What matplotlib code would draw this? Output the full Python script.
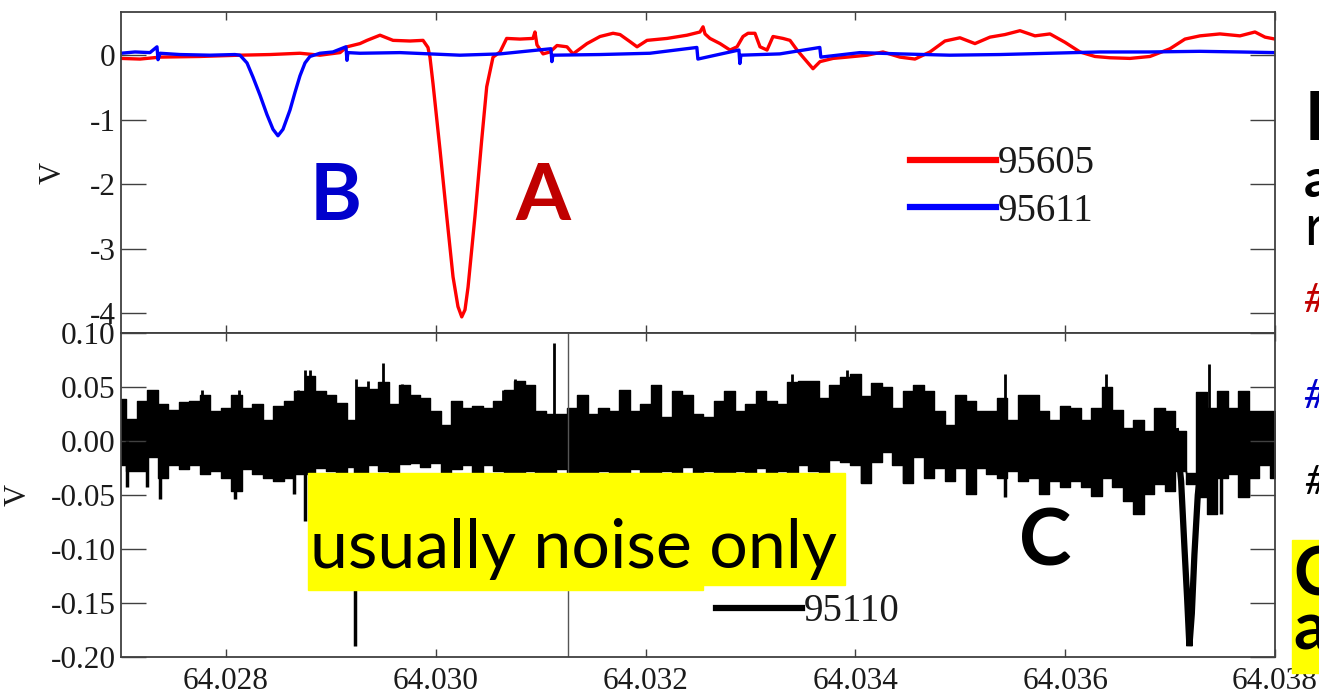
import numpy as np
import matplotlib
matplotlib.use("Agg")
import matplotlib.pyplot as plt
from matplotlib.patches import Rectangle

plt.rcParams['font.family'] = 'Liberation Serif'
plt.rcParams['axes.unicode_minus'] = False

# ---- top panel: channels 95605 (red) and 95611 (blue), volts vs time
red_t = [64.027000, 64.027181, 64.027372, 64.027753, 64.028134, 64.028420, 64.028706,
         64.028897, 64.029088, 64.029154, 64.029278, 64.029345, 64.029469, 64.029593,
         64.029755, 64.029879, 64.029926, 64.029945, 64.029974, 64.030041, 64.030105,
         64.030165, 64.030212, 64.030248, 64.030279, 64.030308, 64.030374, 64.030438,
         64.030486, 64.030546, 64.030613, 64.030676, 64.030803, 64.030927, 64.030946,
         64.030965, 64.031023, 64.031089, 64.031156, 64.031251, 64.031309, 64.031442,
         64.031566, 64.031690, 64.031757, 64.031852, 64.031919, 64.032014, 64.032205,
         64.032395, 64.032519, 64.032548, 64.032567, 64.032614, 64.032710, 64.032805,
         64.032872, 64.032929, 64.032977, 64.033043, 64.033091, 64.033158, 64.033215,
         64.033310, 64.033377, 64.033444, 64.033501, 64.033596, 64.033663, 64.033787,
         64.033920, 64.034111, 64.034263, 64.034425, 64.034568, 64.034711, 64.034854,
         64.034997, 64.035140, 64.035283, 64.035426, 64.035569, 64.035712, 64.035855,
         64.035998, 64.036141, 64.036284, 64.036427, 64.036618, 64.036808, 64.036999,
         64.037142, 64.037285, 64.037475, 64.037666, 64.037809, 64.037905, 64.038000]
red_v = [-0.05, -0.06, -0.03, -0.02, 0.00, 0.01, 0.03,
         0.00, 0.04, 0.13, 0.18, 0.23, 0.31, 0.23,
         0.22, 0.23, 0.12, -0.03, -0.44, -1.47, -2.50,
         -3.44, -3.90, -4.06, -3.95, -3.60, -2.50, -1.32,
         -0.49, -0.03, 0.05, 0.26, 0.25, 0.26, 0.36,
         0.16, 0.02, 0.05, 0.15, 0.13, 0.02, 0.18,
         0.29, 0.34, 0.32, 0.21, 0.13, 0.23, 0.26,
         0.31, 0.36, 0.44, 0.33, 0.26, 0.18, 0.08,
         0.13, 0.29, 0.34, 0.34, 0.13, 0.08, 0.29,
         0.26, 0.23, 0.08, -0.03, -0.21, -0.10, -0.05,
         -0.03, 0.00, 0.05, -0.03, -0.06, 0.05, 0.22,
         0.27, 0.18, 0.28, 0.32, 0.38, 0.30, 0.33,
         0.20, 0.05, -0.02, -0.04, -0.05, -0.02, 0.10,
         0.25, 0.30, 0.33, 0.30, 0.36, 0.28, 0.25]

blue_t = [64.027000, 64.027133, 64.027276, 64.027343, 64.027353, 64.027372, 64.027562,
          64.027848, 64.028086, 64.028134, 64.028201, 64.028258, 64.028325, 64.028391,
          64.028449, 64.028496, 64.028544, 64.028611, 64.028658, 64.028706, 64.028754,
          64.028801, 64.028896, 64.029020, 64.029144, 64.029154, 64.029163, 64.029278,
          64.029659, 64.029945, 64.030231, 64.030612, 64.031098, 64.031107, 64.031117,
          64.031565, 64.032041, 64.032489, 64.032499, 64.032890, 64.032899, 64.032909,
          64.033280, 64.033661, 64.033671, 64.034043, 64.034424, 64.034900, 64.035377,
          64.035853, 64.036330, 64.036806, 64.037283, 64.037664, 64.037998]
blue_v = [0.03, 0.05, 0.04, 0.13, -0.07, 0.03, 0.01,
          0.00, 0.01, 0.00, -0.12, -0.34, -0.62, -0.92,
          -1.15, -1.25, -1.15, -0.85, -0.58, -0.32, -0.12,
          -0.02, 0.03, 0.05, 0.13, -0.08, 0.04, 0.03,
          0.04, 0.02, 0.00, 0.02, 0.10, -0.10, 0.00,
          0.01, 0.03, 0.12, -0.06, 0.08, -0.13, 0.00,
          0.02, 0.12, -0.03, 0.04, 0.02, 0.00, 0.01,
          0.03, 0.05, 0.05, 0.06, 0.05, 0.04]

# ---- bottom panel: channel 95110, min/max envelope every 0.0001 from 64.027 to 64.038
noise_hi = [0.039, 0.020, 0.037, 0.047, 0.034, 0.029, 0.036, 0.037, 0.043, 0.028,
            0.031, 0.043, 0.031, 0.034, 0.019, 0.032, 0.037, 0.046, 0.060, 0.046,
            0.043, 0.035, 0.019, 0.050, 0.048, 0.055, 0.034, 0.052, 0.043, 0.040,
            0.028, 0.015, 0.037, 0.031, 0.032, 0.031, 0.037, 0.047, 0.056, 0.052,
            0.028, 0.025, 0.025, 0.031, 0.043, 0.025, 0.031, 0.028, 0.047, 0.028,
            0.034, 0.052, 0.022, 0.046, 0.043, 0.025, 0.022, 0.037, 0.046, 0.028,
            0.034, 0.046, 0.037, 0.034, 0.055, 0.056, 0.056, 0.040, 0.052, 0.059,
            0.062, 0.042, 0.054, 0.050, 0.031, 0.046, 0.052, 0.046, 0.028, 0.015,
            0.043, 0.037, 0.028, 0.028, 0.040, 0.019, 0.043, 0.043, 0.028, 0.019,
            0.032, 0.031, 0.019, 0.031, 0.050, 0.029, 0.012, 0.019, 0.009, 0.031,
            0.028, 0.009, -0.030, 0.045, 0.031, 0.046, 0.031, 0.046, 0.028, 0.028,
            0.028]
noise_lo = [-0.022, -0.028, -0.028, -0.015, -0.034, -0.022, -0.026, -0.022, -0.031, -0.028,
            -0.034, -0.046, -0.026, -0.031, -0.034, -0.037, -0.034, -0.031, -0.031, -0.025,
            -0.028, -0.031, -0.024, -0.031, -0.022, -0.028, -0.031, -0.021, -0.020, -0.024,
            -0.020, -0.031, -0.026, -0.022, -0.031, -0.022, -0.028, -0.031, -0.031, -0.028,
            -0.033, -0.031, -0.026, -0.033, -0.030, -0.033, -0.028, -0.033, -0.031, -0.026,
            -0.033, -0.031, -0.028, -0.033, -0.024, -0.031, -0.028, -0.033, -0.031, -0.028,
            -0.033, -0.025, -0.031, -0.028, -0.033, -0.022, -0.028, -0.031, -0.018, -0.019,
            -0.022, -0.039, -0.019, -0.010, -0.022, -0.039, -0.015, -0.034, -0.025, -0.037,
            -0.025, -0.049, -0.025, -0.031, -0.034, -0.028, -0.037, -0.034, -0.049, -0.037,
            -0.043, -0.037, -0.043, -0.051, -0.034, -0.043, -0.056, -0.068, -0.049, -0.040,
            -0.046, -0.028, -0.040, -0.052, -0.068, -0.034, -0.031, -0.052, -0.034, -0.022,
            -0.034]

spike_up_t = [64.027293, 64.027773, 64.028126, 64.028686, 64.028756, 64.028803, 64.029240,
              64.029357, 64.029500, 64.029678, 64.030645, 64.030760, 64.031132, 64.032105,
              64.033393, 64.033925, 64.033985, 64.034593, 64.035426, 64.036389, 64.037372]
spike_up_v = [0.047, 0.047, 0.047, 0.047, 0.066, 0.066, 0.057,
              0.056, 0.072, 0.053, 0.047, 0.057, 0.091, 0.052,
              0.062, 0.066, 0.062, 0.052, 0.062, 0.062, 0.071]
spike_dn_t = [64.027054, 64.027245, 64.027372, 64.028088, 64.028651, 64.028756, 64.029233,
              64.034068, 64.034462, 64.035082, 64.035426, 64.036676, 64.037487, 64.037741]
spike_dn_v = [-0.043, -0.043, -0.054, -0.054, -0.049, -0.074, -0.190,
              -0.039, -0.039, -0.049, -0.052, -0.068, -0.068, -0.052]

# event C
dip_t = [64.037057, 64.037105, 64.037137, 64.037162, 64.037184, 64.037207, 64.037232,
         64.037264, 64.037302]
dip_v = [0.009, -0.037, -0.099, -0.145, -0.190, -0.160, -0.105, -0.050, -0.015]

glitch_t = [64.031258]

x_ticks = [64.028, 64.030, 64.032, 64.034, 64.036, 64.038]
top_yticks = [0, -1, -2, -3, -4]
bot_yticks = [0.10, 0.05, 0.00, -0.05, -0.10, -0.15, -0.20]

W, H = 1319, 694
fig = plt.figure(figsize=(W / 100, H / 100), dpi=100)


def fx(px):
    return px / W


def fy(py):
    return 1 - py / H


ax1 = fig.add_axes([fx(121), fy(333), fx(1275) - fx(121), fy(12) - fy(333)])
ax2 = fig.add_axes([fx(121), fy(657), fx(1275) - fx(121), fy(333) - fy(657)])

frame_c = '#404040'
label_c = '#1a1a1a'


def style(ax, show_x):
    for s in ax.spines.values():
        s.set_color(frame_c)
        s.set_linewidth(1.3)
    ax.tick_params(axis='y', direction='in', length=18, width=1, color=frame_c,
                   left=True, right=True, labelsize=22.5, pad=4, labelcolor=label_c)
    ax.tick_params(axis='x', direction='in', length=6, width=1, color=frame_c,
                   top=True, bottom=True, labelsize=22.5, pad=7, labelcolor=label_c,
                   labelbottom=show_x)
    ax.set_xlim(64.027, 64.038)
    ax.set_xticks(x_ticks)
    ax.set_xticklabels(['%.3f' % t for t in x_ticks])


# top panel
ax1.plot(red_t, red_v, color='#ff0000', lw=2.4, label='95605')
ax1.plot(blue_t, blue_v, color='#0000ff', lw=2.4, label='95611')
ax1.set_ylim(-4.31, 0.67)
ax1.set_yticks(top_yticks)
ax1.set_yticklabels([str(v) for v in top_yticks])
style(ax1, False)
ax1.set_ylabel('V', fontsize=22, color=label_c)
ax1.yaxis.set_label_coords(-0.046, 0.5)
leg1 = ax1.legend(loc='upper left', bbox_to_anchor=(0.6837, 0.585), frameon=False,
                  prop={'family': 'Liberation Serif', 'size': 28}, handlelength=2.2,
                  handletextpad=0.05, labelspacing=0.28, borderpad=0, borderaxespad=0)
for h in leg1.legend_handles:
    h.set_linewidth(4.5)
for t in leg1.get_texts():
    t.set_color(label_c)

# bottom panel
samp_t = np.linspace(64.027, 64.038, len(noise_hi))
ax2.fill_between(samp_t, noise_lo, noise_hi, step='mid', color='black', lw=1)
ax2.vlines(spike_up_t, 0, spike_up_v, color='black', lw=2)
ax2.vlines(spike_dn_t, 0, spike_dn_v, color='black', lw=2.5)
ax2.vlines(glitch_t, -0.2, 0.1, color='#555555', lw=1)
ax2.plot(dip_t, dip_v, color='black', lw=4.5, label='95110', solid_joinstyle='miter')
ax2.set_ylim(-0.2, 0.1)
ax2.set_yticks(bot_yticks)
ax2.set_yticklabels(['%.2f' % v for v in bot_yticks])
style(ax2, True)
ax2.set_ylabel('V', fontsize=22, color=label_c)
ax2.yaxis.set_label_coords(-0.077, 0.5)
leg2 = ax2.legend(loc='upper left', bbox_to_anchor=(0.5156, 0.196), frameon=False,
                  prop={'family': 'Liberation Serif', 'size': 28}, handlelength=2.2,
                  handletextpad=0.05, borderpad=0, borderaxespad=0)
for h in leg2.legend_handles:
    h.set_linewidth(4.5)
for t in leg2.get_texts():
    t.set_color(label_c)

# slide annotations
fig.text(fx(336), fy(220), 'B', family='Lato', weight='bold', fontsize=57,
         color='#0000cc', ha='center', va='baseline')
fig.text(fx(543), fy(220), 'A', family='Lato', weight='bold', fontsize=57,
         color='#c00000', ha='center', va='baseline')
fig.text(fx(1045), fy(566), 'C', family='Lato', weight='bold', fontsize=57,
         color='black', ha='center', va='baseline')

fig.add_artist(Rectangle((fx(308), fy(590)), fx(703) - fx(308), fy(473) - fy(590),
                         transform=fig.transFigure, color='#ffff00', zorder=5))
fig.add_artist(Rectangle((fx(703), fy(585)), fx(845) - fx(703), fy(473) - fy(585),
                         transform=fig.transFigure, color='#ffff00', zorder=5))
fig.text(fx(310), fy(568), 'usually noise only', family='Lato', fontsize=49,
         color='black', va='baseline', zorder=6)

# right margin text (cut off at the slide edge)
fig.add_artist(Rectangle((fx(1292), fy(673)), fx(1340) - fx(1292), fy(540) - fy(673),
                         transform=fig.transFigure, color='#ffff00', zorder=5))
fig.text(fx(1305), fy(140), 'I', family='Lato', weight='bold', fontsize=48, va='baseline')
fig.text(fx(1304), fy(197), 'a', family='Lato', weight='bold', fontsize=38, va='baseline')
fig.text(fx(1304), fy(245), 'r', family='Lato', fontsize=40, va='baseline')
fig.text(fx(1303), fy(312), '#', family='Lato', style='italic', fontsize=29,
         color='#c00000', va='baseline')
fig.text(fx(1303), fy(408), '#', family='Lato', style='italic', fontsize=29,
         color='#0000cc', va='baseline')
fig.text(fx(1304), fy(494), '#', family='Lato', style='italic', fontsize=29,
         color='black', va='baseline')
fig.text(fx(1293), fy(595), 'C', family='Lato', weight='bold', fontsize=48,
         va='baseline', zorder=6)
fig.text(fx(1293), fy(649), 'a', family='Lato', weight='bold', fontsize=48,
         va='baseline', zorder=6)

fig.savefig('out.png', dpi=100)
